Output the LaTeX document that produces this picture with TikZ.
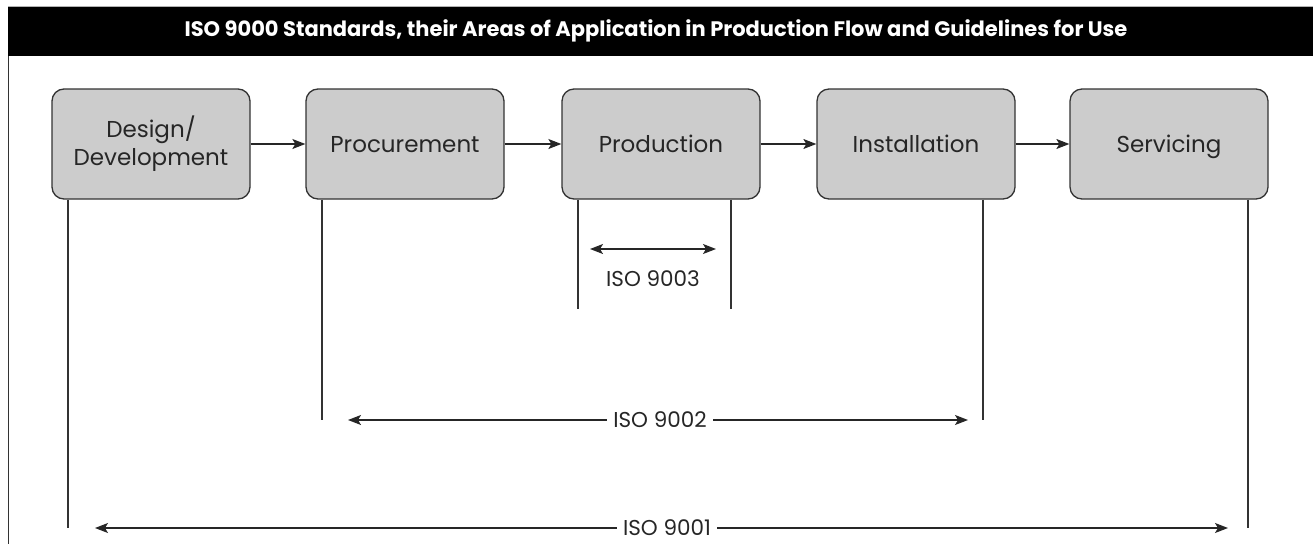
\documentclass[tikz,border=0pt]{standalone}
\usepackage{fontspec}
\setmainfont{Poppins}
\usetikzlibrary{arrows.meta}
\begin{document}
\begin{tikzpicture}[x=1pt,y=-1pt,
  stage/.style={draw=black!80,line width=1.3pt,fill=black!20,rounded corners=12pt,minimum width=198pt,minimum height=110pt,inner sep=0pt,font=\fontsize{23}{28}\selectfont,text=black!85,align=center},
  onestage/.style={stage,text depth=0pt},
  flowarrow/.style={line width=1.3pt,draw=black!85,-{Stealth[length=13pt,width=10pt,inset=3pt]}},
  isospan/.style={line width=1.3pt,draw=black!85,{Stealth[length=13pt,width=10pt,inset=3pt]}-{Stealth[length=13pt,width=10pt,inset=3pt]}},
  limitline/.style={line width=1.3pt,draw=black!80},
  isolabel/.style={fill=white,inner sep=6pt,font=\fontsize{21.5}{24}\selectfont,text=black!85}]
\useasboundingbox (0,0) rectangle (1313,544);
% frame and title
\draw[gray!60,line width=1pt] (8,6.5) -- (1313,6.5);
\fill[black] (8,7) rectangle (1313,56);
\draw[black!80,line width=1.5pt] (8.5,56) -- (8.5,544);
\node[text=white,font=\bfseries\fontsize{21}{24}\selectfont] (title) at (656,31) {ISO 9000 Standards, their Areas of Application in Production Flow and Guidelines for Use};
% stages
\node[stage] (des) at (151,144) {Design/\\Development};
\node[onestage] (pro) at (405,144) {Procurement};
\node[onestage] (prd) at (661,144) {Production};
\node[onestage] (ins) at (916,144) {Installation};
\node[onestage] (ser) at (1169,144) {Servicing};
\draw[flowarrow] (des) -- (pro);
\draw[flowarrow] (pro) -- (prd);
\draw[flowarrow] (prd) -- (ins);
\draw[flowarrow] (ins) -- (ser);
% limit lines
\coordinate (v1) at (68,528);
\coordinate (v2) at (322,420);
\coordinate (v3) at (983,420);
\coordinate (v4) at (578,309);
\coordinate (v5) at (731,309);
\coordinate (v6) at (1248,528);
\draw[limitline] (v1 |- des.south) -- (v1);
\draw[limitline] (v2 |- pro.south) -- (v2);
\draw[limitline] (v3 |- ins.south) -- (v3);
\draw[limitline] (v4 |- prd.south) -- (v4);
\draw[limitline] (v5 |- prd.south) -- (v5);
\draw[limitline] (v6 |- ser.south) -- (v6);
% ISO spans
\coordinate (a3l) at (590,249);
\coordinate (a3r) at (716,249);
\draw[isospan] (a3l) -- (a3r);
\node[isolabel,fill=none] (iso3) at (653,279) {ISO 9003};
\coordinate (a2l) at (348,420);
\coordinate (a2r) at (968,420);
\draw[isospan] (a2l) -- (a2r);
\node[isolabel] (iso2) at (660,420) {ISO 9002};
\coordinate (a1l) at (95,528);
\coordinate (a1r) at (1228,528);
\draw[isospan] (a1l) -- (a1r);
\node[isolabel] (iso1) at (667,528) {ISO 9001};
\end{tikzpicture}
\end{document}
